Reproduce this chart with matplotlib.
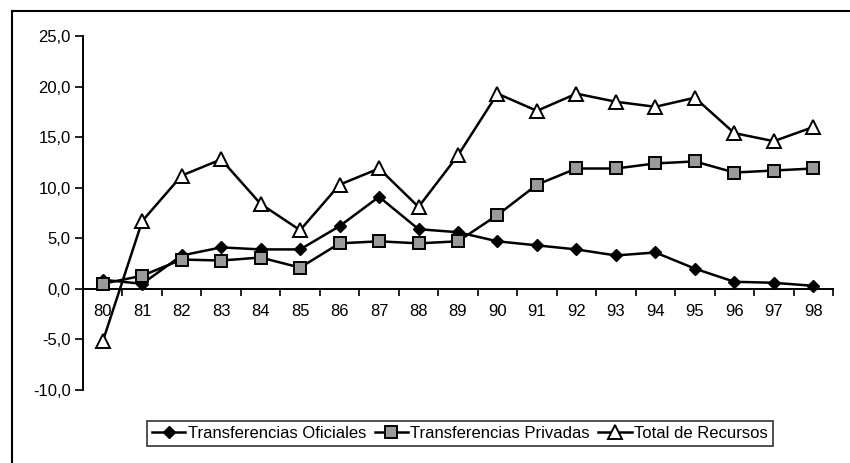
import matplotlib
matplotlib.use("Agg")
import matplotlib.pyplot as plt
from matplotlib.lines import Line2D
import numpy as np

plt.rcParams['font.family'] = ['Liberation Sans', 'DejaVu Sans']

years = ["80", "81", "82", "83", "84", "85", "86", "87", "88", "89",
         "90", "91", "92", "93", "94", "95", "96", "97", "98"]
oficiales = [0.9, 0.5, 3.3, 4.1, 3.9, 3.9, 6.2, 9.1, 5.9, 5.6,
             4.7, 4.3, 3.9, 3.3, 3.6, 2.0, 0.7, 0.6, 0.3]
privadas = [0.5, 1.3, 2.9, 2.8, 3.1, 2.1, 4.5, 4.7, 4.5, 4.7,
            7.3, 10.3, 11.9, 11.9, 12.4, 12.6, 11.5, 11.7, 11.9]
total = [-5.2, 6.7, 11.2, 12.8, 8.4, 5.8, 10.3, 11.9, 8.1, 13.2,
         19.3, 17.6, 19.3, 18.5, 18.0, 18.9, 15.4, 14.6, 16.0]
yticks = [-10, -5, 0, 5, 10, 15, 20, 25]

fig = plt.figure(figsize=(8.5, 4.63), dpi=100)
ax = fig.add_axes([83/850, 1-390/463, (833-83)/850, (390-36)/463])

x = np.arange(len(years))
ax.plot(x, oficiales, color='black', lw=1.8, marker='D', ms=6.5,
        mfc='black', mec='black', label='Transferencias Oficiales', zorder=3)
ax.plot(x, privadas, color='black', lw=1.8, marker='s', ms=8.5,
        mfc='#9a9a9a', mec='black', mew=1.4, label='Transferencias Privadas', zorder=3)
ax.plot(x, total, color='black', lw=1.8, marker='^', ms=10,
        mfc='white', mec='black', mew=1.4, label='Total de Recursos', zorder=4)

ax.set_xlim(-0.5, len(years) - 0.5)
ax.set_ylim(-10, 25)
ax.set_yticks(yticks)
ax.set_yticklabels([f"{v:.1f}".replace('.', ',') for v in yticks], fontsize=12)
ax.tick_params(axis='y', direction='out', length=6, width=1.2, pad=3)

ax.spines['top'].set_visible(False)
ax.spines['right'].set_visible(False)
ax.spines['bottom'].set_position(('data', 0))
ax.spines['left'].set_linewidth(1.4)
ax.spines['bottom'].set_linewidth(1.4)

ax.set_xticks(x)
ax.set_xticklabels(years, fontsize=12)
ax.set_xticks(np.arange(-0.5, len(years)), minor=True)
ax.tick_params(axis='x', which='major', length=0, pad=11)
ax.tick_params(axis='x', which='minor', direction='out', length=5, width=1.2)

leg = ax.legend(loc='center', bbox_to_anchor=(460/850, 1-433/463),
                bbox_transform=fig.transFigure, ncol=3, fontsize=12,
                frameon=True, fancybox=False, edgecolor='black',
                handlelength=2.0, handletextpad=0.15, columnspacing=0.5,
                borderpad=0.3, borderaxespad=0)
leg.get_frame().set_linewidth(1.2)

# outer frame lines (left and top)
fig.add_artist(Line2D([12/850, 12/850], [0, 1-11/463], transform=fig.transFigure,
                      color='black', lw=1.5))
fig.add_artist(Line2D([12/850, 1], [1-11/463, 1-11/463], transform=fig.transFigure,
                      color='black', lw=1.5))

fig.savefig("out.png", dpi=100)
